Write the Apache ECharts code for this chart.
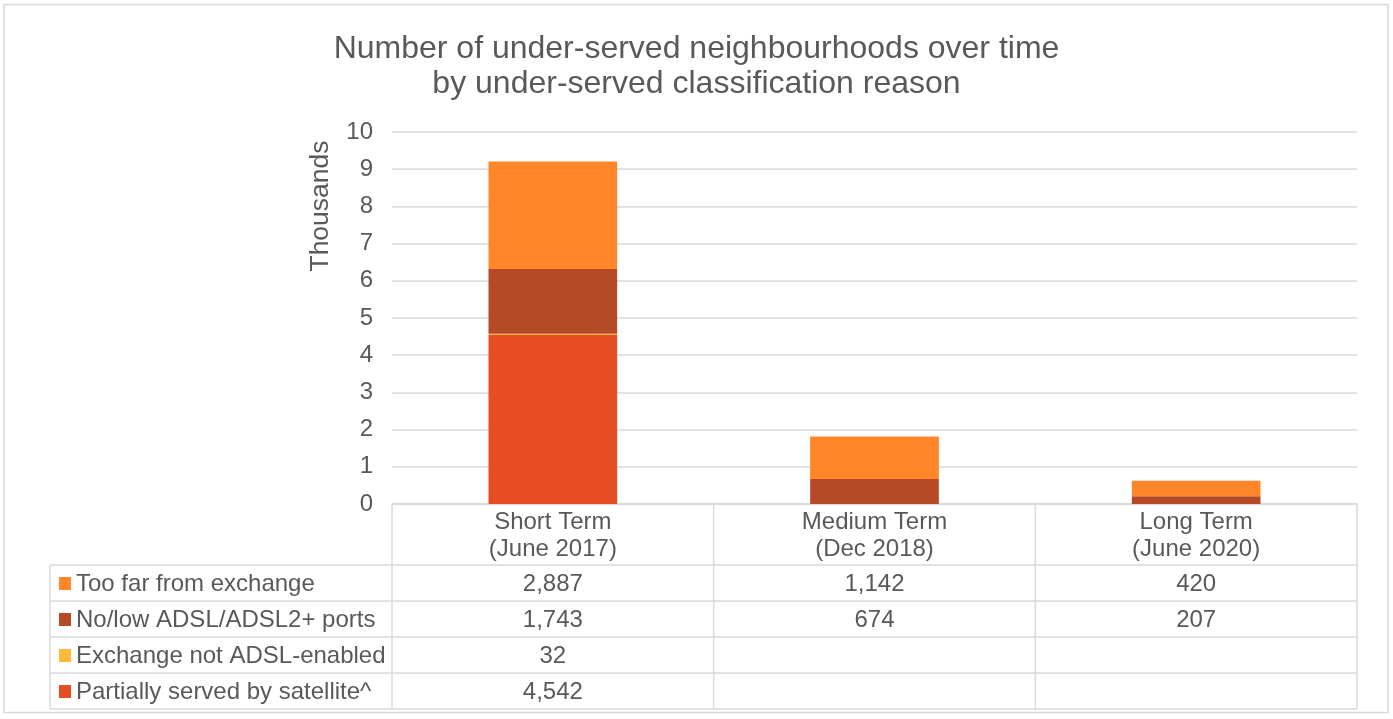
<!DOCTYPE html>
<html>
<head>
<meta charset="utf-8">
<script src="https://cdn.jsdelivr.net/npm/echarts@6/dist/echarts.min.js"></script>
<style>
html, body { margin: 0; padding: 0; background: #fff; }
#main { width: 1393px; height: 719px; }
</style>
</head>
<body>
<div id="main"></div>
<script>
// categories (x axis / table columns)
var categories = ['Short Term\n(June 2017)', 'Medium Term\n(Dec 2018)', 'Long Term\n(June 2020)'];

// series values, raw counts (axis shows thousands)
var tooFar = [2887, 1142, 420];
var noLowPorts = [1743, 674, 207];
var notAdslEnabled = [32, null, null];
var satellite = [4542, null, null];

var seriesNames = ['Too far from exchange', 'No/low ADSL/ADSL2+ ports', 'Exchange not ADSL-enabled', 'Partially served by satellite^'];
var seriesColors = ['#FF8629', '#B64A26', '#FFB838', '#E64D22'];
var seriesData = [tooFar, noLowPorts, notAdslEnabled, satellite];

var yMax = 10000, yStep = 1000;

var textColor = '#595959';
var lineColor = '#D9D9D9';
var font = 'Liberation Sans, Arial, sans-serif';

// layout of plot + data table
var gridLeft = 392, gridRight = 36, gridTop = 132, gridBottom = 215;
var W = 1393, H = 719;
var axisY = H - gridBottom;        // 504
var plotRight = W - gridRight;     // 1357
var headerBottom = 565;
var rowH = 36;
var tableLeft = 50;

var chart = echarts.init(document.getElementById('main'));

// stack from bottom: satellite, not enabled, ports, too far
var series = [];
for (var i = seriesNames.length - 1; i >= 0; i--) {
	series.push({
		name: seriesNames[i],
		type: 'bar',
		stack: 'total',
		barWidth: '40%',
		itemStyle: { color: seriesColors[i] },
		data: seriesData[i]
	});
}

function fmt(v) {
	if (v == null) return '';
	return v.toLocaleString('en-US');
}

function buildTable() {
	var g = [];
	var colW = (plotRight - gridLeft) / categories.length;
	var tableBottom = headerBottom + rowH * seriesNames.length;
	var ls = { stroke: lineColor, lineWidth: 1.5 };

	// horizontal lines
	for (var r = 0; r <= seriesNames.length; r++) {
		var y = headerBottom + r * rowH;
		g.push({ type: 'line', shape: { x1: tableLeft, y1: y, x2: plotRight, y2: y }, style: ls, silent: true });
	}
	// vertical lines
	g.push({ type: 'line', shape: { x1: tableLeft, y1: headerBottom, x2: tableLeft, y2: tableBottom }, style: ls, silent: true });
	for (var c = 0; c <= categories.length; c++) {
		var x = gridLeft + c * colW;
		g.push({ type: 'line', shape: { x1: x, y1: axisY, x2: x, y2: tableBottom }, style: ls, silent: true });
	}
	// rows: legend key + name + values
	for (var k = 0; k < seriesNames.length; k++) {
		var cy = headerBottom + k * rowH + rowH / 2;
		g.push({ type: 'rect', shape: { x: tableLeft + 9, y: cy - 6, width: 12, height: 13 }, style: { fill: seriesColors[k] }, silent: true });
		g.push({
			type: 'text', x: tableLeft + 26, y: cy + 1,
			style: { text: seriesNames[k], fill: textColor, font: '24px ' + font, textVerticalAlign: 'middle', textAlign: 'left' },
			silent: true
		});
		for (var j = 0; j < categories.length; j++) {
			g.push({
				type: 'text', x: gridLeft + colW * (j + 0.5), y: cy + 1,
				style: { text: fmt(seriesData[k][j]), fill: textColor, font: '24px ' + font, textVerticalAlign: 'middle', textAlign: 'center' },
				silent: true
			});
		}
	}
	// y axis name
	g.push({
		type: 'text', x: 321, y: 206, rotation: Math.PI / 2,
		style: { text: 'Thousands', fill: textColor, font: '26.5px ' + font, textAlign: 'center', textVerticalAlign: 'middle' },
		silent: true
	});
	// outer chart border
	g.push({ type: 'rect', shape: { x: 4, y: 4.5, width: 1384, height: 708 }, style: { fill: 'none', stroke: lineColor, lineWidth: 1.5 }, silent: true, z: -1 });
	return g;
}

var option = {
	backgroundColor: '#fff',
	animation: false,
	title: {
		text: 'Number of under-served neighbourhoods over time\nby under-served classification reason',
		left: 'center',
		top: 27,
		textStyle: { color: textColor, fontFamily: font, fontSize: 32, fontWeight: 'normal', lineHeight: 35 }
	},
	grid: { left: gridLeft, right: gridRight, top: gridTop, bottom: gridBottom },
	xAxis: {
		type: 'category',
		data: categories,
		axisLine: { lineStyle: { color: lineColor, width: 1.5 } },
		axisTick: { show: false },
		axisLabel: { color: textColor, fontFamily: font, fontSize: 24, lineHeight: 27, margin: 5 }
	},
	yAxis: {
		type: 'value',
		min: 0,
		max: yMax,
		interval: yStep,
		axisLine: { show: false },
		axisTick: { show: false },
		axisLabel: {
			color: textColor, fontFamily: font, fontSize: 24, margin: 19,
			formatter: function(v) { return v / 1000; }
		},
		splitLine: { lineStyle: { color: lineColor, width: 1.5 } }
	},
	series: series,
	graphic: buildTable()
};

chart.setOption(option);
</script>
</body>
</html>
